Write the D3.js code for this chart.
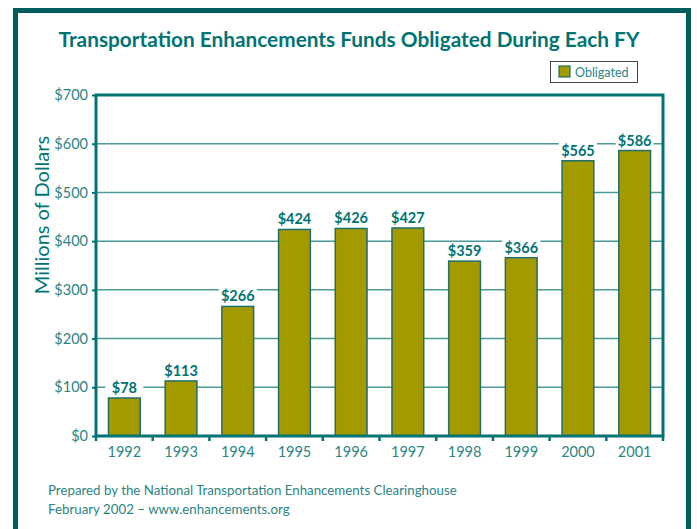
<!DOCTYPE html>
<html>
<head>
<meta charset="utf-8">
<script src="https://cdn.jsdelivr.net/npm/d3@7"></script>
<style>
  body { margin: 0; background: #fff; }
  svg { display: block; }
</style>
</head>
<body>
<div class="container"></div>
<script>
/* Data */
const years = ['1992', '1993', '1994', '1995', '1996', '1997', '1998', '1999', '2000', '2001'];
const obligated = [78, 113, 266, 424, 426, 427, 359, 366, 565, 586];
const yTicks = [0, 100, 200, 300, 400, 500, 600, 700];

/* Params */
const width = 697;
const height = 529;
const margin = { top: 95, right: 34, bottom: 93, left: 96 };
const font = 'Lato, "Open Sans", sans-serif';

/* Colors */
const frame = '#005c5c';
const teal = '#007474';
const tickText = '#2b8585';
const grid = '#4a9a9a';
const barFill = '#a39a00';
const barStroke = '#1f6f6a';

const svg = d3.select('.container')
    .append('svg')
    .attr('width', width)
    .attr('height', height)
    .style('background', '#fff');

// Outer frame
svg.append('rect')
    .attr('x', 15.5).attr('y', 10.5)
    .attr('width', 673).attr('height', 540)
    .attr('fill', 'none')
    .attr('stroke', frame)
    .attr('stroke-width', 5);

svg.append('text')
    .attr('x', 349).attr('y', 47)
    .attr('text-anchor', 'middle')
    .attr('font-family', font)
    .attr('font-weight', 'bold')
    .attr('font-size', 20.8)
    .attr('fill', teal)
    .text('Transportation Enhancements Funds Obligated During Each FY');

// Legend
const legend = svg.append('g').attr('transform', 'translate(550, 61)');
legend.append('rect')
    .attr('x', 0.5).attr('y', 0.5).attr('width', 87).attr('height', 21)
    .attr('fill', '#fff').attr('stroke', '#444').attr('stroke-width', 1);
legend.append('rect')
    .attr('x', 9).attr('y', 5).attr('width', 11).attr('height', 11)
    .attr('fill', barFill).attr('stroke', barStroke).attr('stroke-width', 1.2);
legend.append('text')
    .attr('x', 25).attr('y', 15.5)
    .attr('font-family', font).attr('font-size', 12.5)
    .attr('fill', tickText)
    .text('Obligated');

const plotW = width - margin.left - margin.right;
const plotH = height - margin.top - margin.bottom;

const x = d3.scaleBand()
    .domain(years)
    .range([margin.left, margin.left + plotW])
    .paddingInner(0.44)
    .paddingOuter(0.22);

const y = d3.scaleLinear()
    .domain([0, 700])
    .range([margin.top + plotH, margin.top]);

// Gridlines
svg.append('g')
    .selectAll('line')
    .data(yTicks.filter(d => d > 0 && d < 700))
    .join('line')
    .attr('x1', margin.left).attr('x2', margin.left + plotW)
    .attr('y1', d => y(d)).attr('y2', d => y(d))
    .attr('stroke', grid).attr('stroke-width', 1.5);

// Y axis
const yAxis = svg.append('g')
    .attr('transform', `translate(${margin.left},0)`)
    .call(d3.axisLeft(y).tickValues(yTicks).tickFormat(d => '$' + d).tickSize(4).tickPadding(4));
yAxis.select('.domain').remove();
yAxis.selectAll('.tick line').attr('stroke', teal).attr('stroke-width', 2);
yAxis.selectAll('.tick text')
    .attr('font-family', font).attr('font-size', 14.5).attr('fill', tickText);

// X axis ticks at band boundaries
const bounds = d3.range(years.length + 1).map(i => margin.left + i * plotW / years.length);
svg.append('g')
    .selectAll('line')
    .data(bounds)
    .join('line')
    .attr('x1', d => d).attr('x2', d => d)
    .attr('y1', y(0)).attr('y2', y(0) + 5)
    .attr('stroke', teal).attr('stroke-width', 2.5);

svg.append('g')
    .selectAll('text')
    .data(years)
    .join('text')
    .attr('x', d => x(d) + x.bandwidth() / 2)
    .attr('y', y(0) + 21)
    .attr('text-anchor', 'middle')
    .attr('font-family', font).attr('font-size', 14.5)
    .attr('fill', tickText)
    .text(d => d);

// Bars
svg.append('g')
    .selectAll('rect')
    .data(obligated)
    .join('rect')
    .attr('x', (d, i) => x(years[i]))
    .attr('y', d => y(d))
    .attr('width', x.bandwidth())
    .attr('height', d => y(0) - y(d))
    .attr('fill', barFill)
    .attr('stroke', barStroke)
    .attr('stroke-width', 1.5);

// Value labels with white knockout
const labels = svg.append('g')
    .selectAll('g')
    .data(obligated)
    .join('g')
    .attr('transform', (d, i) => `translate(${x(years[i]) + x.bandwidth() / 2},${y(d) - 5})`);
labels.append('rect')
    .attr('x', -19).attr('y', -14).attr('width', 38).attr('height', 15)
    .attr('fill', '#fff');
labels.append('text')
    .attr('text-anchor', 'middle')
    .attr('font-family', font).attr('font-weight', 'bold').attr('font-size', 14.5)
    .attr('fill', teal)
    .text(d => '$' + d);

// Plot frame: left, bottom, top, right
svg.append('path')
    .attr('d', `M${margin.left},${margin.top}H${margin.left + plotW}V${y(0)}H${margin.left}Z`)
    .attr('fill', 'none')
    .attr('stroke', teal)
    .attr('stroke-width', 3);

// Y axis title
svg.append('text')
    .attr('transform', `translate(49, 215) rotate(-90)`)
    .attr('text-anchor', 'middle')
    .attr('font-family', font).attr('font-size', 20)
    .attr('fill', teal)
    .text('Millions of Dollars');

// Footer
const footer = svg.append('g')
    .attr('font-family', font).attr('font-size', 13.3)
    .attr('fill', tickText);
footer.append('text').attr('x', 48).attr('y', 495)
    .text('Prepared by the National Transportation Enhancements Clearinghouse');
footer.append('text').attr('x', 48).attr('y', 514)
    .text('February 2002 \u2013 www.enhancements.org');
</script>
</body>
</html>
